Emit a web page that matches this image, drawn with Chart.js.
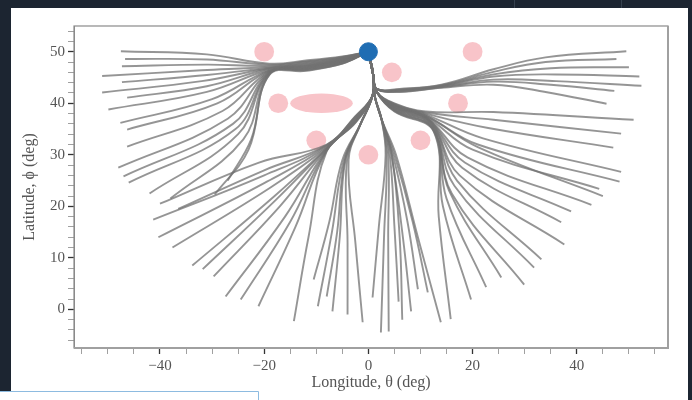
<!DOCTYPE html>
<html>
<head>
<meta charset="utf-8">
<script src="https://cdn.jsdelivr.net/npm/chart.js@4.4.1/dist/chart.umd.min.js"></script>
<style>
  html, body { margin: 0; padding: 0; background: #1c2531; }
  canvas { display: block; }
</style>
</head>
<body>
<canvas id="c" width="692" height="400"></canvas>
<script>
// Launch site (longitude, latitude in degrees)
const sourceLon = [0];
const sourceLat = [50];

// Obstacles: centre and half-widths in degrees
const obstacleLon = [-20, 4.5, 20, -17.3, -9, 17.2, -10, 10, 0];
const obstacleLat = [50, 46, 50, 40, 40, 40, 32.8, 32.8, 30];
const obstacleRLon = [1.9, 1.9, 1.9, 1.9, 6, 1.9, 1.9, 1.9, 1.9];
const obstacleRLat = [1.9, 1.9, 1.9, 1.9, 1.9, 1.9, 1.9, 1.9, 1.9];

// Axis tick positions
const lonMajorTicks = [-40, -20, 0, 20, 40];
const latMajorTicks = [0, 10, 20, 30, 40, 50];

// Trajectories heading west along the upper corridor
const westUpperPaths = [
  [[0,50],[-5,49.1],[-12,48.3],[-19,47.7],[-31,49.5],[-47.5,50.1]],
  [[0,50],[-5,49.0],[-12,48.1],[-19,47.5],[-31,48.5],[-46.7,48.6]],
  [[0,50],[-5,48.9],[-12,48.0],[-19,47.3],[-31,47.5],[-47.3,47.2]],
  [[0,50],[-5,48.8],[-12,47.8],[-19,47.1],[-32,46.4],[-51.1,45.3]],
  [[0,50],[-5,48.7],[-12,47.7],[-19,46.9],[-31,45.5],[-47.3,44.1]],
  [[0,50],[-5,48.6],[-12,47.5],[-19,46.8],[-32,44.3],[-51.1,42.1]],
  [[0,50],[-5,48.5],[-12,47.4],[-19,46.7],[-31,43.3],[-46.3,41.1]],
  [[0,50],[-5,48.4],[-12,47.3],[-19,46.5],[-31,42.2],[-49.9,38.8]],
  [[0,50],[-5,48.3],[-12,47.2],[-19,46.4],[-30,40.8],[-47.6,36.2]],
  [[0,50],[-5,48.3],[-12,47.1],[-19,46.3],[-29,40.0],[-46.3,34.9]],
  [[0,50],[-5,48.2],[-12,47.0],[-19,46.2],[-28,38.5],[-46.3,31.6]],
  [[0,50],[-5,48.1],[-12,46.9],[-19,46.1],[-27,37.0],[-48.0,27.5]],
  [[0,50],[-5,48.0],[-12,46.8],[-19,46.0],[-26,36.0],[-47.0,25.8]],
  [[0,50],[-5,48.0],[-12,46.7],[-19,45.9],[-25.5,35.0],[-46.0,24.6]],
  [[0,50],[-5,47.9],[-12,46.6],[-19,45.8],[-25,34.0],[-42.0,22.5]],
  [[0,50],[-5,47.8],[-12,46.5],[-19,45.7],[-24,33.0],[-38.0,21.5]],
  [[0,50],[-5,47.7],[-12,46.4],[-19,45.6],[-23,31.0],[-29.5,22.3]],
  [[0,50],[-5,47.7],[-12,46.3],[-19,45.5],[-22.5,33.0],[-27.0,25.0]]
];

// Trajectories heading south-west
const westLowerPaths = [
  [[0,50],[0.9,45.6],[0.8,41.5],[-2.5,37.3],[-8,31.8],[-20,26.0],[-41.3,17.4]],
  [[0,50],[0.9,45.6],[0.8,41.5],[-2.5,37.1],[-8,31.6],[-20,24.5],[-40.3,14.0]],
  [[0,50],[0.9,45.6],[0.8,41.5],[-2.5,36.9],[-8,31.4],[-19,23.5],[-37.6,12.0]],
  [[0,50],[0.9,45.6],[0.8,41.5],[-2.5,36.8],[-8,31.3],[-18,22.0],[-33.8,8.5]],
  [[0,50],[0.9,45.6],[0.8,41.5],[-2.5,36.7],[-8,31.2],[-18,21.0],[-31.8,7.8]],
  [[0,50],[0.9,45.6],[0.8,41.5],[-2.5,36.6],[-8,31.1],[-17,20.0],[-29.7,6.4]],
  [[0,50],[0.9,45.6],[0.8,41.5],[-2.5,36.5],[-8,31.0],[-16,18.0],[-27.4,2.5]],
  [[0,50],[0.9,45.6],[0.8,41.5],[-2.5,36.4],[-8,30.9],[-15,17.0],[-24.5,1.9]],
  [[0,50],[0.9,45.6],[0.8,41.5],[-2.5,36.3],[-8,30.8],[-14,16.0],[-21.1,0.6]],
  [[0,50],[0.9,45.6],[0.8,41.5],[-2.5,36.2],[-8,30.7],[-11.5,14.0],[-14.3,-2.3]],
  [[0,50],[0.9,45.6],[0.8,41.5],[-2.5,37.4],[-8,31.9],[-20,27.0],[-36.5,19.5]],
  [[0,50],[0.9,45.6],[0.8,41.5],[-2.5,37.5],[-8,32.0],[-21,28.5],[-40.0,20.5]]
];

// Trajectories passing west of the southern obstacle
const southWestPaths = [
  [[0,50],[0.9,45.6],[0.8,41.5],[-1.5,36],[-5.0,29],[-7.5,17],[-10.5,5.8]],
  [[0,50],[0.9,45.6],[0.8,41.5],[-1.5,36],[-4.7,29],[-7.0,15],[-9.7,0.6]],
  [[0,50],[0.9,45.6],[0.8,41.5],[-1.5,36],[-4.4,29],[-5.5,14],[-6.9,-0.4]],
  [[0,50],[0.9,45.6],[0.8,41.5],[-1.5,36],[-4.1,29],[-4.0,13],[-4.0,-1.0]],
  [[0,50],[0.9,45.6],[0.8,41.5],[-1.5,36],[-3.8,29],[-2.5,13],[-1.1,-2.5]],
  [[0,50],[0.9,45.6],[0.8,41.5],[-1.5,36],[-4.5,29],[-6.0,15],[-8.0,2.5]]
];

// Trajectories passing east of the southern obstacle
const southEastPaths = [
  [[0,50],[0.9,45.6],[1.2,41.5],[2.5,37],[3.3,30],[2.0,16],[0.8,2.3]],
  [[0,50],[0.9,45.6],[1.2,41.5],[2.5,37],[3.5,30],[3.0,14],[2.4,-4.5]],
  [[0,50],[0.9,45.6],[1.2,41.5],[2.5,37],[3.8,30],[3.8,14],[3.9,-4.3]],
  [[0,50],[0.9,45.6],[1.2,41.5],[2.5,37],[4.1,30],[5.0,16],[5.8,1.5]],
  [[0,50],[0.9,45.6],[1.2,41.5],[2.5,37],[4.4,30],[6.5,15],[8.2,-0.4]],
  [[0,50],[0.9,45.6],[1.2,41.5],[2.5,37],[4.7,30],[7.5,17],[9.5,3.9]],
  [[0,50],[0.9,45.6],[1.2,41.5],[2.5,37],[5.0,30],[8.5,17],[11.4,3.3]],
  [[0,50],[0.9,45.6],[1.2,41.5],[2.5,37],[5.3,30],[9.5,14],[13.9,-2.5]],
  [[0,50],[0.9,45.6],[1.2,41.5],[2.5,37],[4.5,30],[6.0,14],[6.5,-2.0]]
];

// Trajectories heading east along the upper corridor
const eastUpperPaths = [
  [[0,50],[0.9,45.6],[1.6,42.8],[6,42.8],[14,43.6],[24,46.6],[34,48.9],[49.5,50.1]],
  [[0,50],[0.9,45.6],[1.6,42.8],[6,42.7],[14,43.5],[24,46.1],[34,48.0],[47.6,48.6]],
  [[0,50],[0.9,45.6],[1.6,42.8],[6,42.5],[14,43.3],[24,45.2],[36,45.6],[52.0,45.2]],
  [[0,50],[0.9,45.6],[1.6,42.8],[6,42.4],[14,43.2],[24,44.6],[36,44.3],[52.4,43.4]],
  [[0,50],[0.9,45.6],[1.6,42.8],[6,42.3],[14,43.1],[24,44.2],[35,43.6],[47.2,42.4]],
  [[0,50],[0.9,45.6],[1.6,42.8],[6,42.2],[14,43.0],[24,43.6],[34,42.2],[45.7,39.9]],
  [[0,50],[0.9,45.6],[1.6,42.8],[6,42.6],[14,43.4],[24,45.6],[35,46.8],[50.0,47.0]]
];

// Trajectories heading south-east
const eastLowerPaths = [
  [[0,50],[0.9,45.6],[1.6,42.2],[5,40.0],[11,38.4],[24,38.3],[50.9,36.8]],
  [[0,50],[0.9,45.6],[1.6,42.2],[5,39.9],[11,38.2],[24,36.8],[48.5,34.1]],
  [[0,50],[0.9,45.6],[1.6,42.2],[5,39.8],[11,38.0],[23,35.2],[47.0,31.4]],
  [[0,50],[0.9,45.6],[1.6,42.2],[5,39.7],[11,37.8],[22,33.2],[48.5,26.7]],
  [[0,50],[0.9,45.6],[1.6,42.2],[5,39.6],[11,37.6],[21,32.0],[48.2,24.8]],
  [[0,50],[0.9,45.6],[1.6,42.2],[5,39.5],[11,37.4],[20,31.0],[44.3,23.4]],
  [[0,50],[0.9,45.6],[1.6,42.2],[5,39.4],[11.2,37.2],[19,29.5],[42.8,20.3]],
  [[0,50],[0.9,45.6],[1.6,42.2],[5,39.3],[11.4,37.0],[18.5,28.5],[38.9,19.0]],
  [[0,50],[0.9,45.6],[1.6,42.2],[5,39.2],[11.6,36.8],[18,27.5],[37.0,16.9]],
  [[0,50],[0.9,45.6],[1.6,42.2],[5,39.1],[11.8,36.5],[17.5,26],[37.6,12.6]],
  [[0,50],[0.9,45.6],[1.6,42.2],[5,39.0],[12.0,36.2],[17,25],[33.2,9.7]],
  [[0,50],[0.9,45.6],[1.6,42.2],[5,38.9],[12.1,35.9],[16.5,24],[31.8,8.1]],
  [[0,50],[0.9,45.6],[1.6,42.2],[5,38.8],[12.2,35.6],[16,22.5],[29.9,4.8]],
  [[0,50],[0.9,45.6],[1.6,42.2],[5,38.7],[12.3,35.3],[15.5,23],[25.5,6.2]],
  [[0,50],[0.9,45.6],[1.6,42.2],[5,38.6],[12.4,35.0],[15,21.5],[22.6,4.3]],
  [[0,50],[0.9,45.6],[1.6,42.2],[5,38.5],[12.5,34.7],[14.3,20],[19.7,1.9]],
  [[0,50],[0.9,45.6],[1.6,42.2],[5,38.4],[12.6,34.4],[13.5,18],[15.8,-1.9]],
  [[0,50],[0.9,45.6],[1.6,42.2],[5,39.6],[11,37.6],[21,31.5],[45.0,22.0]]
];

const allPaths = [].concat(westUpperPaths, westLowerPaths, southWestPaths,
                           southEastPaths, eastUpperPaths, eastLowerPaths);

const serif = '"Liberation Serif", "DejaVu Serif", serif';
const minus = v => (v < 0 ? '\u2212' + Math.abs(v) : String(v));

const pathDatasets = allPaths.map(p => ({
  type: 'line',
  data: p.map(([x, y]) => ({ x, y })),
  borderColor: 'rgba(114,114,114,0.75)',
  borderWidth: 1.9,
  pointRadius: 0,
  tension: 0.4,
  fill: false,
  order: 1
}));

// Page backdrop, white figure panel and the framed bottom-left box
const backdrop = {
  id: 'backdrop',
  beforeDraw(chart) {
    const ctx = chart.ctx;
    ctx.save();
    ctx.fillStyle = '#1c2531';
    ctx.fillRect(0, 0, chart.width, chart.height);
    ctx.strokeStyle = '#36414e';
    ctx.lineWidth = 1;
    ctx.beginPath();
    ctx.moveTo(514.5, 0); ctx.lineTo(514.5, 8);
    ctx.moveTo(621.5, 0); ctx.lineTo(621.5, 8);
    ctx.stroke();
    ctx.fillStyle = '#ffffff';
    ctx.fillRect(11, 8, 677, 392);
    ctx.fillRect(0, 391, 258, 9);
    ctx.strokeStyle = '#8dbbe0';
    ctx.beginPath();
    ctx.moveTo(0, 391.5); ctx.lineTo(258.5, 391.5); ctx.lineTo(258.5, 400);
    ctx.stroke();
    ctx.restore();
  }
};

// Obstacles drawn as ellipses in data units, under the trajectories
const obstacles = {
  id: 'obstacles',
  beforeDatasetsDraw(chart) {
    const { ctx, chartArea, scales: { x, y } } = chart;
    ctx.save();
    ctx.beginPath();
    ctx.rect(chartArea.left, chartArea.top, chartArea.width, chartArea.height);
    ctx.clip();
    ctx.fillStyle = 'rgba(247,186,192,0.85)';
    obstacleLon.forEach((lon, i) => {
      const cx = x.getPixelForValue(lon);
      const cy = y.getPixelForValue(obstacleLat[i]);
      const rx = Math.abs(x.getPixelForValue(lon + obstacleRLon[i]) - cx);
      const ry = Math.abs(y.getPixelForValue(obstacleLat[i] + obstacleRLat[i]) - cy);
      ctx.beginPath();
      ctx.ellipse(cx, cy, rx, ry, 0, 0, Math.PI * 2);
      ctx.fill();
    });
    ctx.restore();
  }
};

// Full box around the plotting area
const frame = {
  id: 'frame',
  afterDraw(chart) {
    const { ctx, chartArea: a } = chart;
    ctx.save();
    ctx.strokeStyle = '#8a8a8a';
    ctx.lineWidth = 1.2;
    ctx.strokeRect(a.left, a.top, a.right - a.left, a.bottom - a.top);
    ctx.strokeStyle = '#a0a0a0';
    ctx.lineWidth = 2;
    ctx.beginPath();
    ctx.moveTo(a.right, a.top); ctx.lineTo(a.right, a.bottom); ctx.lineTo(a.left, a.bottom);
    ctx.stroke();
    ctx.restore();
  }
};

const stepTicks = (step) => (scale) => {
  const ticks = [];
  const start = Math.ceil(scale.min / step) * step;
  for (let v = start; v <= scale.max + 1e-9; v += step) ticks.push({ value: v });
  scale.ticks = ticks;
};

new Chart(document.getElementById('c'), {
  type: 'scatter',
  data: {
    datasets: [
      {
        type: 'scatter',
        data: sourceLon.map((x, i) => ({ x, y: sourceLat[i] })),
        backgroundColor: '#1f6db3',
        borderColor: '#1f6db3',
        pointRadius: 9,
        order: 0
      },
      ...pathDatasets
    ]
  },
  options: {
    responsive: false,
    animation: false,
    devicePixelRatio: 1,
    layout: { padding: { left: 20, top: 26, right: 24, bottom: 6 } },
    plugins: { legend: { display: false }, tooltip: { enabled: false } },
    scales: {
      x: {
        type: 'linear',
        min: -56.5,
        max: 57.5,
        afterBuildTicks: stepTicks(5),
        afterFit: s => { s.height = 46; },
        grid: {
          drawOnChartArea: false,
          tickLength: 6,
          tickColor: c => (lonMajorTicks.includes(c.tick && c.tick.value) ? '#333' : '#888'),
          tickWidth: c => (lonMajorTicks.includes(c.tick && c.tick.value) ? 1.3 : 0.8)
        },
        border: { display: true, color: '#8a8a8a' },
        ticks: {
          autoSkip: false,
          maxRotation: 0,
          padding: 3,
          color: '#555',
          font: { family: serif, size: 15 },
          callback: v => (lonMajorTicks.includes(v) ? minus(v) : '')
        },
        title: {
          display: true,
          text: 'Longitude, \u03b8 (deg)',
          color: '#555',
          font: { family: serif, size: 16 },
          padding: { top: 0, bottom: 2 }
        }
      },
      y: {
        type: 'linear',
        min: -7.5,
        max: 55,
        afterBuildTicks: stepTicks(2),
        afterFit: s => { s.width = 54; },
        grid: {
          drawOnChartArea: false,
          tickLength: 6,
          tickColor: c => (latMajorTicks.includes(c.tick && c.tick.value) ? '#333' : '#888'),
          tickWidth: c => (latMajorTicks.includes(c.tick && c.tick.value) ? 1.3 : 0.8)
        },
        border: { display: true, color: '#8a8a8a' },
        ticks: {
          autoSkip: false,
          padding: 3,
          color: '#555',
          font: { family: serif, size: 15 },
          callback: v => (latMajorTicks.includes(v) ? minus(v) : '')
        },
        title: {
          display: true,
          text: 'Latitude, \u03d5 (deg)',
          color: '#555',
          font: { family: serif, size: 16 },
          padding: { top: 0, bottom: 4 }
        }
      }
    }
  },
  plugins: [backdrop, obstacles, frame]
});
</script>
</body>
</html>
